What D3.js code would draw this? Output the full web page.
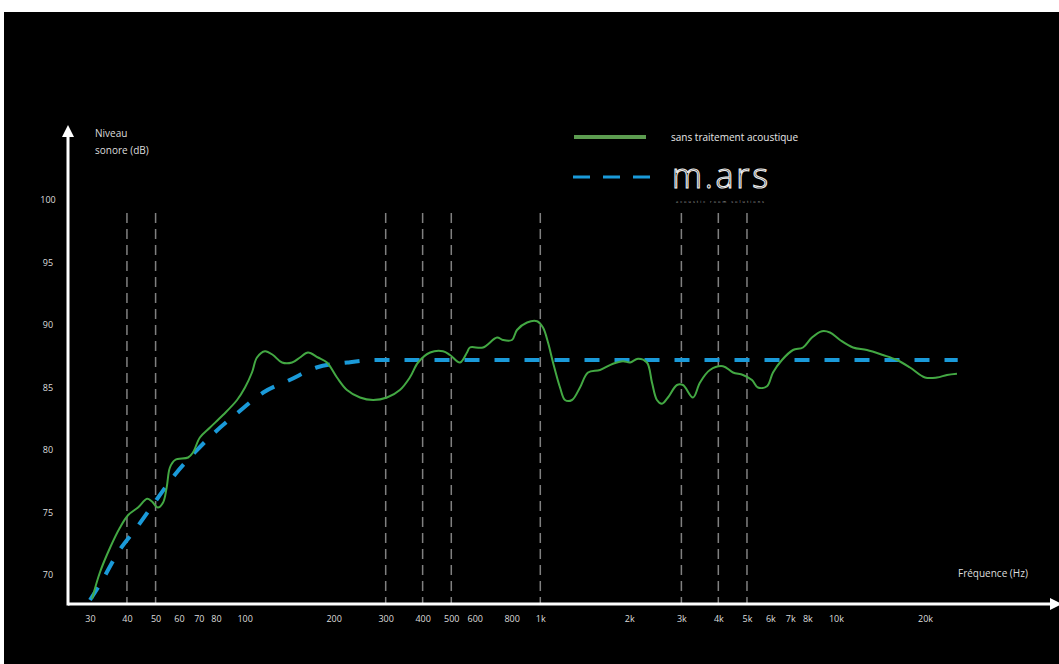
<!DOCTYPE html>
<html>
<head>
<meta charset="utf-8">
<script src="https://cdn.jsdelivr.net/npm/d3@7"></script>
<style>
  body { margin: 0; background: #fff; }
  text { font-family: "Open Sans", "DejaVu Sans", sans-serif; }
</style>
</head>
<body>
<div id="chart"></div>
<script>
// frequency (Hz) / level (dB)
var rawFreq = [30.5, 32.4, 35.1, 37.9, 40.4, 43.6, 46.8, 48.5, 50.9, 53.0, 54.5, 55.9, 58.2, 64.4, 66.9, 70.6, 76.4, 84.5, 94.3, 100.3,
    105.9, 110.1, 117.2, 124.7, 133.8, 144.7, 153.9, 163.8, 177.1, 189.9, 205.3, 221.9, 245.6, 271.8, 303, 335, 362, 386, 424, 469,
    495, 535, 565, 578, 640, 714, 748, 802, 834, 902, 975, 1021, 1062, 1104, 1166, 1212, 1280, 1362, 1450, 1592,
    1761, 1904, 2011, 2140, 2294, 2386, 2480, 2579, 2702, 2899, 3037, 3283, 3468, 3748, 4148, 4484, 4847, 5199, 5447, 5843,
    6123, 6566, 7155, 7735, 8294, 8966, 9542, 10317, 11415, 12727, 14420, 16077, 17793, 19999, 21953, 23732, 25653];
var rawLevel = [68.1, 70.2, 72.2, 73.8, 74.8, 75.4, 76.1, 75.9, 75.4, 75.8, 77.0, 78.6, 79.2, 79.4, 79.8, 81.0, 81.8, 82.8, 84.0, 85.0,
    86.2, 87.4, 87.9, 87.6, 87.0, 87.0, 87.4, 87.8, 87.4, 87.0, 85.8, 84.8, 84.2, 84.0, 84.2, 84.8, 85.8, 87.0, 87.8, 87.9,
    87.6, 87.0, 87.8, 88.2, 88.2, 89.0, 88.8, 88.8, 89.6, 90.2, 90.3, 89.8, 88.6, 87.0, 85.0, 84.0, 84.0, 85.0, 86.2, 86.4,
    86.9, 87.1, 87.0, 87.3, 87.0, 85.4, 84.0, 83.7, 84.2, 85.2, 85.2, 84.2, 85.4, 86.4, 86.7, 86.2, 86.0, 85.6, 85.0, 85.1,
    86.2, 87.2, 88.0, 88.2, 89.0, 89.5, 89.4, 88.8, 88.2, 88.0, 87.6, 87.2, 86.6, 85.8, 85.8, 86.0, 86.1];

var marsFreq = [30, 32.7, 37.3, 43.2, 50.3, 58, 67.8, 79.2, 95, 115.6, 142, 175, 223, 280, 25800];
var marsLevel = [68.0, 69.4, 71.8, 73.8, 76.0, 78.0, 79.8, 81.4, 83.0, 84.6, 85.6, 86.6, 87.0, 87.2, 87.2];

var markerFreq = [40, 50, 300, 400, 500, 1000, 3000, 4000, 5000];

var xTicks = [30, 40, 50, 60, 70, 80, 100, 200, 300, 400, 500, 600, 800, 1000, 2000, 3000, 4000, 5000, 6000, 7000, 8000, 10000, 20000];
var xTickLabels = ['30', '40', '50', '60', '70', '80', '100', '200', '300', '400', '500', '600', '800', '1k', '2k', '3k', '4k', '5k', '6k', '7k', '8k', '10k', '20k'];
var yTicks = [70, 75, 80, 85, 90, 95, 100];

var width = 1059,
    height = 664,
    axisX = 68,
    axisY = 604;

var svg = d3.select('#chart')
    .append('svg')
    .attr('width', width)
    .attr('height', height);

svg.append('rect')
    .attr('x', 4).attr('y', 12)
    .attr('width', width - 4).attr('height', height - 12)
    .attr('fill', '#000');

var x = d3.scaleLog().domain([30, 20000]).range([90, 925]);
var y = d3.scaleLinear().domain([70, 100]).range([575, 200]);

// vertical markers
svg.selectAll('line.marker')
    .data(markerFreq)
    .enter()
    .append('line')
    .attr('class', 'marker')
    .attr('x1', function (d) { return x(d); })
    .attr('x2', function (d) { return x(d); })
    .attr('y1', 213)
    .attr('y2', axisY)
    .attr('stroke', '#808080')
    .attr('stroke-width', 1.5)
    .attr('stroke-dasharray', '10,6');

// axes with arrows
var defs = svg.append('defs');
defs.append('marker')
    .attr('id', 'arrow')
    .attr('viewBox', '0 0 10 10')
    .attr('refX', 5).attr('refY', 5)
    .attr('markerWidth', 4).attr('markerHeight', 4)
    .attr('orient', 'auto')
    .append('path')
    .attr('d', 'M0,0L10,5L0,10z')
    .attr('fill', '#fff');

svg.append('line')
    .attr('x1', axisX).attr('y1', axisY)
    .attr('x2', width - 3).attr('y2', axisY)
    .attr('stroke', '#fff').attr('stroke-width', 3)
    .attr('marker-end', 'url(#arrow)');

svg.append('line')
    .attr('x1', axisX).attr('y1', axisY + 1.5)
    .attr('x2', axisX).attr('y2', 131)
    .attr('stroke', '#fff').attr('stroke-width', 3)
    .attr('marker-end', 'url(#arrow)');

var xAxis = d3.axisBottom(x)
    .tickValues(xTicks)
    .tickSize(0)
    .tickPadding(0)
    .tickFormat(function (d, i) { return xTickLabels[i]; });

var gx = svg.append('g')
    .attr('transform', 'translate(0,' + (axisY + 12) + ')')
    .call(xAxis);
gx.select('.domain').remove();
gx.selectAll('text')
    .attr('fill', '#ddd')
    .style('font-size', '9px');

var yAxis = d3.axisLeft(y)
    .tickValues(yTicks)
    .tickSize(0)
    .tickPadding(0);

var gy = svg.append('g')
    .attr('transform', 'translate(48,0)')
    .call(yAxis);
gy.select('.domain').remove();
gy.selectAll('text')
    .attr('fill', '#ddd')
    .attr('text-anchor', 'middle')
    .style('font-size', '9px');

// curves
var line = d3.line()
    .x(function (d) { return x(d[0]); })
    .y(function (d) { return y(d[1]); });

var marsData = d3.zip(marsFreq, marsLevel);
var rawData = d3.zip(rawFreq, rawLevel);

svg.append('path')
    .datum(marsData)
    .attr('d', line.curve(d3.curveMonotoneX))
    .attr('fill', 'none')
    .attr('stroke', '#1a9ad9')
    .attr('stroke-width', 4)
    .attr('stroke-dasharray', '15,15');

svg.append('path')
    .datum(rawData)
    .attr('d', line.curve(d3.curveCatmullRom))
    .attr('fill', 'none')
    .attr('stroke', '#43a843')
    .attr('stroke-width', 2);

// axis titles
var yTitle = svg.append('text')
    .attr('x', 95).attr('y', 137)
    .attr('fill', '#ddd')
    .style('font-size', '10px');
yTitle.append('tspan').attr('x', 95).text('Niveau');
yTitle.append('tspan').attr('x', 95).attr('dy', 17).text('sonore (dB)');

svg.append('text')
    .attr('x', 958).attr('y', 577)
    .attr('fill', '#ddd')
    .style('font-size', '10px')
    .text('Fréquence (Hz)');

// legend
svg.append('line')
    .attr('x1', 574).attr('x2', 646)
    .attr('y1', 137).attr('y2', 137)
    .attr('stroke', '#5c9c50')
    .attr('stroke-width', 4);

svg.append('text')
    .attr('x', 671).attr('y', 141)
    .attr('fill', '#e8e8e8')
    .style('font-size', '10px')
    .text('sans traitement acoustique');

svg.append('line')
    .attr('x1', 573).attr('x2', 650)
    .attr('y1', 177).attr('y2', 177)
    .attr('stroke', '#1a9ad9')
    .attr('stroke-width', 3)
    .attr('stroke-dasharray', '17,13');

svg.append('text')
    .attr('x', 672).attr('y', 188)
    .attr('fill', 'none')
    .attr('stroke', '#ececec')
    .attr('stroke-width', 1.1)
    .style('font-size', '34px')
    .style('font-weight', 300)
    .attr('textLength', 96)
    .text('m.ars');

svg.append('text')
    .attr('x', 676).attr('y', 203)
    .attr('fill', '#aaa')
    .style('font-size', '4px')
    .attr('textLength', 88)
    .text('acoustic room solutions');
</script>
</body>
</html>
